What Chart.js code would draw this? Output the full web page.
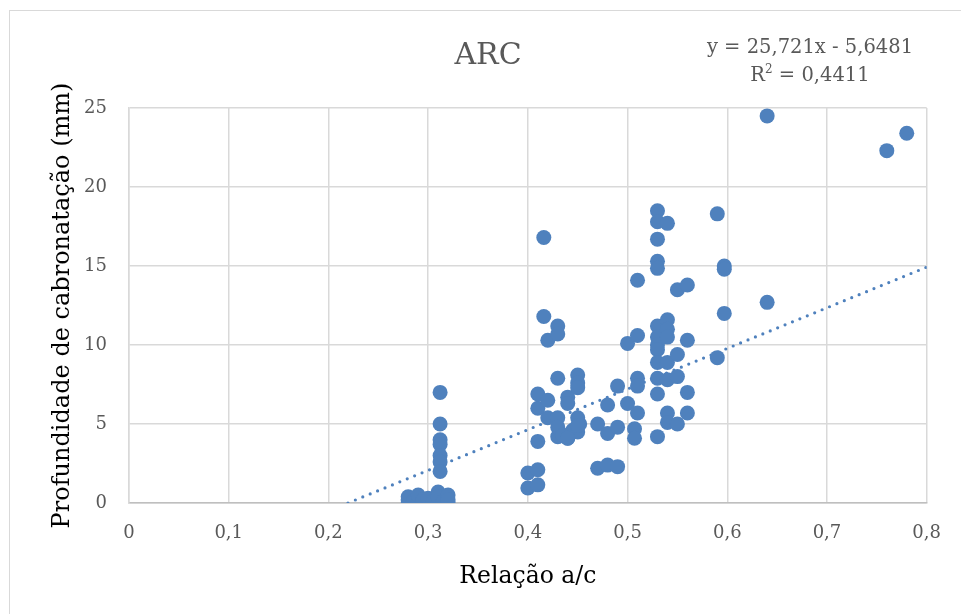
<!DOCTYPE html>
<html>
<head>
<meta charset="utf-8">
<script src="https://cdn.jsdelivr.net/npm/chart.js@4.4.1/dist/chart.umd.min.js"></script>
<style>
    html, body { margin: 0; padding: 0; background: #fff; overflow: hidden; }
    #wrap { position: relative; width: 961px; height: 614px; }
    #frame { position: absolute; left: 9px; top: 10px; width: 1000px; height: 700px; border: 1px solid #d9d9d9; }
    #eq {
        position: absolute; left: 660px; top: 33px; width: 300px; text-align: center;
        font-family: "DejaVu Serif", serif; font-size: 19.5px; line-height: 28px; color: #595959;
    }
    #eq sup { font-size: 12px; vertical-align: 8px; line-height: 0; }
</style>
</head>
<body>
<div id="wrap">
    <div id="frame"></div>
    <canvas id="arc-chart" width="961" height="614"></canvas>
    <div id="eq">y = 25,721x - 5,6481<br>R<sup>2</sup> = 0,4411</div>
</div>
<script>
// Relação a/c (x) e profundidade de carbonatação (y)
const relacaoAC = [
    0.28, 0.28, 0.28, 0.285, 0.29, 0.29, 0.295, 0.30, 0.30, 0.305, 0.31, 0.31, 0.31, 0.315, 0.32, 0.32, 0.32,
    0.312, 0.312, 0.312, 0.312, 0.312, 0.312, 0.312,
    0.40, 0.40,
    0.41, 0.41, 0.41, 0.41, 0.41,
    0.416, 0.416,
    0.42, 0.42, 0.42,
    0.43, 0.43, 0.43, 0.43, 0.43, 0.43, 0.435, 0.44, 0.445, 0.45, 0.452,
    0.44, 0.44, 0.44,
    0.45, 0.45, 0.45, 0.45, 0.45,
    0.47, 0.47,
    0.48, 0.48, 0.48,
    0.49, 0.49, 0.49,
    0.50, 0.50,
    0.507, 0.507,
    0.51, 0.51, 0.51, 0.51, 0.51,
    0.53, 0.53, 0.53, 0.53, 0.53, 0.53, 0.53, 0.53, 0.53, 0.53, 0.53, 0.53, 0.53,
    0.54, 0.54, 0.54, 0.54, 0.54, 0.54, 0.54, 0.54,
    0.55, 0.55, 0.55, 0.55,
    0.56, 0.56, 0.56, 0.56,
    0.59, 0.59,
    0.597, 0.597, 0.597,
    0.64, 0.64,
    0.76, 0.78
];
const profundidade = [
    0.0, 0.2, 0.4, 0.1, 0.0, 0.5, 0.2, 0.0, 0.3, 0.1, 0.0, 0.7, 0.4, 0.1, 0.0, 0.5, 0.2,
    7.0, 5.0, 4.0, 3.7, 3.0, 2.6, 2.0,
    1.9, 0.95,
    2.1, 1.15, 3.9, 6.0, 6.9,
    16.8, 11.8,
    6.5, 5.4, 10.3,
    11.2, 10.7, 7.9, 5.4, 4.2, 4.8, 4.3, 4.1, 4.6, 4.5, 5.0,
    6.7, 6.3, 4.1,
    8.1, 7.6, 7.3, 5.4, 4.9,
    5.0, 2.2,
    6.2, 4.4, 2.4,
    7.4, 4.8, 2.3,
    10.1, 6.3,
    4.7, 4.1,
    14.1, 10.6, 7.9, 7.4, 5.7,
    18.5, 17.8, 16.7, 15.3, 14.85, 11.2, 10.5, 10.0, 9.7, 8.9, 7.9, 6.9, 4.2,
    17.7, 11.6, 11.0, 10.5, 8.9, 7.8, 5.7, 5.1,
    13.5, 9.4, 8.0, 5.0,
    13.8, 10.3, 7.0, 5.7,
    18.3, 9.2,
    15.0, 14.8, 12.0,
    24.5, 12.7,
    22.3, 23.4
];

// linha de tendência: y = 25,721x - 5,6481
const slope = 25.721;
const intercept = -5.6481;
const trendX = [-intercept / slope, 0.8];

const xTicks = [0, 0.1, 0.2, 0.3, 0.4, 0.5, 0.6, 0.7, 0.8];
const yTicks = [0, 5, 10, 15, 20, 25];

const blue = '#4f81bd';
const serif = '"DejaVu Serif", serif';

new Chart(document.getElementById('arc-chart'), {
    type: 'scatter',
    data: {
        datasets: [{
            label: 'ARC',
            data: relacaoAC.map((x, i) => ({ x: x, y: profundidade[i] })),
            backgroundColor: blue,
            borderWidth: 0,
            pointRadius: 7.5,
            pointHoverRadius: 7.5
        }, {
            type: 'line',
            label: 'Tendência',
            data: trendX.map(x => ({ x: x, y: slope * x + intercept })),
            borderColor: blue,
            borderWidth: 3.2,
            borderDash: [0, 8],
            borderCapStyle: 'round',
            pointRadius: 0,
            fill: false
        }]
    },
    options: {
        responsive: false,
        animation: false,
        layout: { padding: { left: 48, right: 33, top: 0, bottom: 0 } },
        plugins: {
            legend: { display: false },
            tooltip: { enabled: false },
            title: {
                display: true,
                text: 'ARC',
                color: '#595959',
                font: { family: serif, size: 30, weight: 'normal', lineHeight: 1.2 },
                padding: { top: 38, bottom: 34 }
            }
        },
        scales: {
            x: {
                type: 'linear',
                min: 0,
                max: 0.8,
                afterBuildTicks: axis => { axis.ticks = xTicks.map(v => ({ value: v })); },
                afterFit: axis => { axis.height = 111; },
                ticks: {
                    color: '#595959',
                    padding: 20,
                    font: { family: serif, size: 18 },
                    callback: v => String(v).replace('.', ',')
                },
                grid: { color: '#d9d9d9', lineWidth: 1.5, drawTicks: false },
                border: { color: '#bfbfbf', width: 1.5 },
                title: {
                    display: true,
                    text: 'Relação a/c',
                    color: '#000',
                    font: { family: serif, size: 23.5 },
                    padding: { bottom: 23 }
                }
            },
            y: {
                min: 0,
                max: 25,
                afterBuildTicks: axis => { axis.ticks = yTicks.map(v => ({ value: v })); },
                afterFit: axis => { axis.width = 81; },
                ticks: {
                    color: '#595959',
                    padding: 22,
                    font: { family: serif, size: 18 }
                },
                grid: { color: '#d9d9d9', lineWidth: 1.5, drawTicks: false },
                border: { color: '#d9d9d9', width: 1.5 },
                title: {
                    display: true,
                    text: 'Profundidade de cabronatação (mm)',
                    color: '#000',
                    font: { family: serif, size: 24 },
                    padding: { top: 0 }
                }
            }
        }
    }
});
</script>
</body>
</html>
